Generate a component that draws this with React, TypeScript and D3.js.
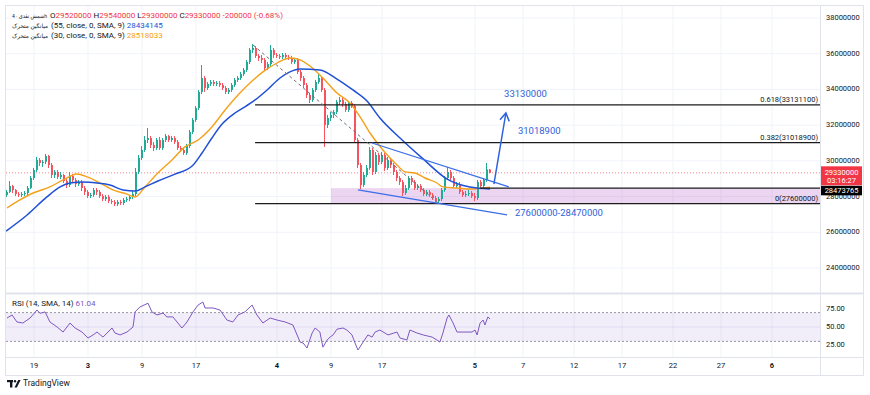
import React from 'react';
import * as d3 from 'd3';

// 4h bars, prices in units of 10,000
const firstOpen = 2809;
const closes = [
  2826, 2859, 2837, 2814, 2809, 2814, 2820, 2848, 2904, 2949,
  3005, 2988, 2994, 3027, 2977, 2921, 2938, 2910, 2921, 2887,
  2865, 2915, 2893, 2870, 2882, 2848, 2826, 2803, 2809, 2837,
  2826, 2803, 2786, 2798, 2775, 2770, 2758, 2770, 2764, 2781,
  2786, 2798, 2814, 2938, 3016, 3061, 3117, 3128, 3089, 3072,
  3117, 3072, 3117, 3139, 3117, 3128, 3106, 3072, 3061, 3044,
  3083, 3162, 3229, 3296, 3386, 3464, 3408, 3431, 3442, 3431,
  3436, 3425, 3408, 3386, 3397, 3425, 3453, 3464, 3486, 3509,
  3554, 3621, 3632, 3587, 3576, 3565, 3520, 3542, 3621, 3593,
  3587, 3582, 3593, 3582, 3576, 3554, 3565, 3498, 3464, 3425,
  3369, 3341, 3397, 3442, 3464, 3397, 3201, 3240, 3257, 3274,
  3330, 3341, 3318, 3285, 3324, 3307, 3117, 2977, 2865, 2921,
  2960, 3061, 2938, 3033, 2994, 3033, 2960, 3005, 2977, 2938,
  2904, 2882, 2820, 2848, 2904, 2882, 2848, 2859, 2837, 2814,
  2826, 2809, 2792, 2775, 2786, 2837, 2904, 2938, 2904, 2859,
  2870, 2826, 2809, 2814, 2820, 2803, 2792, 2882, 2859, 2893,
  2952, 2933,
];
const highs = [
  2837, 2887, 2865, 2842, 2826, 2826, 2831, 2859, 2915, 2960,
  3022, 3016, 3005, 3038, 3033, 2988, 2949, 2949, 2938, 2926,
  2898, 2938, 2926, 2904, 2893, 2893, 2859, 2837, 2820, 2848,
  2848, 2837, 2814, 2809, 2809, 2786, 2781, 2781, 2781, 2792,
  2798, 2809, 2831, 2960, 3033, 3083, 3139, 3184, 3139, 3106,
  3128, 3134, 3128, 3150, 3145, 3139, 3139, 3117, 3083, 3072,
  3095, 3173, 3240, 3307, 3397, 3537, 3475, 3442, 3453, 3453,
  3447, 3447, 3436, 3419, 3408, 3436, 3464, 3475, 3498, 3520,
  3565, 3632, 3654, 3643, 3598, 3593, 3576, 3554, 3649, 3632,
  3604, 3598, 3604, 3604, 3593, 3587, 3576, 3576, 3509, 3475,
  3436, 3380, 3408, 3453, 3492, 3475, 3408, 3257, 3274, 3285,
  3341, 3358, 3352, 3330, 3335, 3335, 3318, 3128, 2988, 2938,
  2977, 3078, 3072, 3050, 3044, 3050, 3044, 3022, 3016, 2988,
  2949, 2915, 2893, 2865, 2915, 2915, 2893, 2870, 2870, 2848,
  2837, 2837, 2820, 2803, 2798, 2848, 2915, 2966, 2949, 2915,
  2882, 2882, 2837, 2831, 2837, 2831, 2820, 2893, 2893, 2904,
  2988, 2954,
];
const lows = [
  2798, 2820, 2820, 2803, 2798, 2798, 2803, 2809, 2842, 2893,
  2938, 2971, 2966, 2982, 2960, 2904, 2904, 2898, 2898, 2876,
  2848, 2854, 2882, 2854, 2859, 2831, 2809, 2792, 2792, 2798,
  2809, 2792, 2775, 2775, 2764, 2758, 2747, 2747, 2753, 2753,
  2770, 2775, 2786, 2803, 2926, 3005, 3050, 3100, 3072, 3055,
  3061, 3061, 3061, 3106, 3106, 3106, 3095, 3061, 3050, 3033,
  3033, 3072, 3150, 3218, 3285, 3374, 3386, 3397, 3419, 3419,
  3419, 3414, 3397, 3374, 3374, 3386, 3414, 3442, 3453, 3475,
  3498, 3542, 3604, 3576, 3559, 3548, 3503, 3509, 3531, 3576,
  3576, 3570, 3570, 3570, 3565, 3542, 3542, 3486, 3447, 3408,
  3352, 3324, 3330, 3386, 3431, 3386, 3078, 3184, 3223, 3240,
  3262, 3313, 3302, 3274, 3274, 3296, 3100, 2960, 2842, 2854,
  2910, 2949, 2921, 2926, 2977, 2982, 2943, 2949, 2960, 2921,
  2887, 2865, 2803, 2809, 2837, 2865, 2837, 2837, 2826, 2803,
  2803, 2798, 2781, 2758, 2764, 2775, 2826, 2893, 2893, 2848,
  2848, 2814, 2798, 2798, 2803, 2792, 2775, 2781, 2848, 2848,
  2882, 2930,
];

// moving averages as [bar, price]
const sma55 = [
  [-0.3, 2607], [6.7, 2697], [13.3, 2798], [17.7, 2854], [21, 2876], [25.3, 2882],
  [30, 2876], [34.3, 2865], [38.7, 2837], [42.7, 2831], [46, 2854], [50.3, 2887],
  [56, 2926], [61.7, 2971], [65, 3044], [68.3, 3128], [71.7, 3206], [76, 3268],
  [79.3, 3302], [82.7, 3341], [86.7, 3397], [91, 3464], [94.3, 3498], [97.7, 3514],
  [104.3, 3509], [110, 3458], [115.3, 3397], [120, 3335], [124.3, 3240], [131, 3128],
  [138.7, 3011], [146.7, 2898], [154.3, 2854], [161, 2843],
];
const sma30 = [
  [0, 2736], [4.3, 2781], [8.7, 2820], [14.3, 2854], [18.7, 2893], [23.3, 2926],
  [26.7, 2910], [31, 2876], [35.3, 2837], [40, 2814], [42.7, 2798], [46, 2854],
  [50.3, 2932], [55, 3005], [59.3, 3078], [63.7, 3117], [68.3, 3190], [72.7, 3285],
  [77, 3369], [81.7, 3447], [85.3, 3498], [90, 3548], [94.3, 3576], [97, 3570],
  [101, 3531], [105.3, 3464], [110, 3380], [114.3, 3324], [117.7, 3246], [121, 3156],
  [125.3, 3061], [130, 2977], [132.7, 2938], [136, 2932], [139.3, 2904], [143.3, 2876],
  [145.3, 2854], [150, 2848], [154.3, 2842], [161, 2852],
];
const rsi = [
  [0, 62.5], [1.7, 66.7], [3.3, 57], [5.3, 55.5], [7.7, 62.5], [10, 73.6], [11, 69],
  [12.7, 71], [14.3, 57], [16.7, 50], [18.7, 43], [21, 55.5], [22.7, 48.6], [25, 43],
  [27, 34.7], [28.7, 39], [30, 43], [32, 36], [35, 48.6], [36, 41.6], [37.7, 39],
  [40, 43], [42, 50], [42.7, 71], [44.3, 77.8], [47, 83], [48.3, 71], [50, 66.7],
  [52, 69.4], [53.3, 64], [55.3, 64], [58.3, 48.6], [60, 57], [62, 71], [63.7, 80.5],
  [65.3, 84.7], [66, 76.4], [68.7, 76.4], [71, 73.6], [73.3, 59.7], [75.3, 57],
  [77, 66.7], [79.3, 71], [81.7, 80.5], [83.3, 66.7], [85.3, 55.5], [87.7, 62.5],
  [90, 59.7], [92.7, 57], [95.3, 52.8], [97.7, 29], [98.7, 27.8], [100, 20.8],
  [101.7, 41.6], [102.7, 48.6], [104.3, 43], [105.3, 22], [106.7, 32], [107.7, 36],
  [108.7, 39], [110, 47], [112, 48.6], [113.3, 45.8], [115, 39], [116, 27.8], [117, 18],
  [118.7, 29], [120.3, 39], [121.7, 36], [122.7, 43], [124.3, 45.8], [127, 39],
  [130, 43], [131, 34.7], [133.3, 32], [134.3, 45.8], [136.7, 41.6], [138.7, 39],
  [141.7, 36], [143.3, 32], [144.3, 29], [145.3, 41.6], [146.7, 62.5], [147.3, 66.7],
  [148.7, 55.5], [150, 43], [152, 43], [155, 43], [156, 45.8], [156.7, 39],
  [157.7, 55.5], [158.7, 59.7], [159.3, 52.8], [160.3, 64], [161, 61.04],
];

const priceTicks = [3800, 3600, 3400, 3200, 3000, 2800, 2600, 2400];
const rsiTicks = [75, 50, 25];
const timeTickBars = [9, 27, 45, 63, 90, 108, 125, 156, 172, 189, 205, 222, 238, 255];
const timeTickLabels = ['19', '3', '9', '17', '4', '9', '17', '5', '7', '12', '17', '22', '27', '6'];
const monthStarts = ['3', '4', '5', '6'];

// drawings
const fibStart = 82.7;
const fibLevels = [
  { ratio: '0.618', price: 3313.11 },
  { ratio: '0.382', price: 3101.89 },
  { ratio: '0', price: 2760 },
];
const zone = { from: 108, low: 2760, high: 2847 };
const zoneTopStart = 157.7;
const channelUpper = [[121.7, 3100], [167.3, 2854]];
const channelLower = [[117, 2837], [166.7, 2697]];
const dashedTrend = [[82, 3649], [143.7, 2764]];
const arrow = [[162.3, 2870], [166.3, 3268]];
const notes = [
  { bar: 165.7, price: 3374, text: '33130000' },
  { bar: 170.3, price: 3162, text: '31018900' },
  { bar: 169.3, price: 2703, text: '27600000-28470000' },
];
const lastClose = 2933;
const countdown = '03:16:27';
const extraLabel = '28473765';

const UP = '#22ab94';
const DOWN = '#f7525f';
const FONT = "Roboto, 'DejaVu Sans', sans-serif";

const fmt = (v: number) => String(Math.round(v * 10000));

export default function App() {
  const left = 6, right = 820, top = 6, mainBottom = 293, rsiBottom = 357, axisBottom = 375;
  const x = d3.scaleLinear().domain([0, 271]).range([7, 820]);
  const y = d3.scaleLinear().domain([2400, 3800]).range([268, 18]);
  const yr = d3.scaleLinear().domain([25, 75]).range([345, 309]);

  const maLine = d3.line<number[]>().x(d => x(d[0])).y(d => y(d[1])).curve(d3.curveMonotoneX);
  const rsiLine = d3.line<number[]>().x(d => x(d[0])).y(d => yr(d[1]));

  const candles = closes.map((c, i) => {
    const o = i === 0 ? firstOpen : closes[i - 1];
    const col = c >= o ? UP : DOWN;
    const cx = Math.round(x(i));
    const yTop = y(Math.max(o, c));
    const yBot = y(Math.min(o, c));
    return (
      <g key={i}>
        <rect x={cx - 1} y={y(highs[i])} width={1} height={y(lows[i]) - y(highs[i])} fill={col} />
        <rect x={cx - 1} y={yTop} width={2} height={Math.max(1, yBot - yTop)} fill={col} />
      </g>
    );
  });

  const ly = y(lastClose);
  const arrowTip = [x(arrow[1][0]), y(arrow[1][1])];
  const arrowBase = [x(arrow[0][0]), y(arrow[0][1])];
  const ang = Math.atan2(arrowTip[1] - arrowBase[1], arrowTip[0] - arrowBase[0]);
  const headLen = 9;
  const head = [ang + Math.PI - 0.55, ang + Math.PI + 0.55].map(a => [
    arrowTip[0] + headLen * Math.cos(a),
    arrowTip[1] + headLen * Math.sin(a),
  ]);

  return (
    <svg width={870} height={395} style={{ position: 'absolute', left: 0, top: 0, background: '#fff' }}
      fontFamily={FONT}>
      <defs>
        <clipPath id="mainClip"><rect x={left} y={top} width={right - left} height={mainBottom - top} /></clipPath>
        <clipPath id="rsiClip"><rect x={left} y={mainBottom} width={right - left} height={rsiBottom - mainBottom} /></clipPath>
      </defs>
      <rect width={870} height={395} fill="#fff" />

      {/* grid */}
      {timeTickBars.map((b, i) => (
        <line key={'vg' + i} x1={x(b)} x2={x(b)} y1={top} y2={rsiBottom} stroke="#f0f3fa" />
      ))}
      {priceTicks.map(p => (
        <line key={'hg' + p} x1={left} x2={right} y1={y(p)} y2={y(p)} stroke="#f0f3fa" />
      ))}

      {/* frame */}
      <rect x={5.5} y={5.5} width={858} height={370} fill="none" stroke="#e0e3eb" />
      <line x1={5.5} x2={863.5} y1={mainBottom + 0.5} y2={mainBottom + 0.5} stroke="#e0e3eb" strokeWidth={2} />
      <line x1={5.5} x2={863.5} y1={rsiBottom + 0.5} y2={rsiBottom + 0.5} stroke="#e0e3eb" />
      <line x1={right + 0.5} x2={right + 0.5} y1={5.5} y2={axisBottom} stroke="#e0e3eb" />

      <g clipPath="url(#mainClip)">
        {/* zone */}
        <rect x={x(zone.from)} y={y(zone.high)} width={right - x(zone.from)} height={y(zone.low) - y(zone.high)}
          fill="rgba(186,104,200,0.28)" />
        {/* last price line */}
        <line x1={left} x2={right} y1={ly} y2={ly} stroke="#f23645" strokeOpacity={0.6} strokeDasharray="1 2" />

        {candles}

        <path d={maLine(sma30) || ''} fill="none" stroke="#f5a01a" strokeWidth={1.4} />
        <path d={maLine(sma55) || ''} fill="none" stroke="#1f4fd6" strokeWidth={1.5} />

        {/* fib levels */}
        {fibLevels.map(f => (
          <g key={f.ratio}>
            <line x1={x(fibStart)} x2={right} y1={y(f.price)} y2={y(f.price)} stroke="#1c1c1c" strokeWidth={1.3} />
            <text x={right - 2} y={y(f.price) - 3} textAnchor="end" fontSize={7.5} fill="#131722">
              {`${f.ratio}(${fmt(f.price)})`}
            </text>
          </g>
        ))}
        <line x1={x(zoneTopStart)} x2={right} y1={y(zone.high)} y2={y(zone.high)} stroke="#1c1c1c" strokeWidth={1.3} />

        {/* trend drawings */}
        <line x1={x(dashedTrend[0][0])} y1={y(dashedTrend[0][1])} x2={x(dashedTrend[1][0])} y2={y(dashedTrend[1][1])}
          stroke="#6a6d78" strokeDasharray="3 3" />
        {[channelUpper, channelLower].map((c, i) => (
          <line key={'ch' + i} x1={x(c[0][0])} y1={y(c[0][1])} x2={x(c[1][0])} y2={y(c[1][1])}
            stroke="#3b6ee8" strokeWidth={1.3} />
        ))}
        <line x1={arrowBase[0]} y1={arrowBase[1]} x2={arrowTip[0]} y2={arrowTip[1]} stroke="#2e62e0" strokeWidth={1.5} />
        <polyline points={`${head[0][0]},${head[0][1]} ${arrowTip[0]},${arrowTip[1]} ${head[1][0]},${head[1][1]}`}
          fill="none" stroke="#2e62e0" strokeWidth={1.5} />
        {notes.map(n => (
          <text key={n.text} x={x(n.bar)} y={y(n.price)} dominantBaseline="middle" fontSize={9.5} fill="#2e62d9">
            {n.text}
          </text>
        ))}
      </g>

      {/* RSI pane */}
      <g clipPath="url(#rsiClip)">
        <rect x={left} y={yr(70)} width={right - left} height={yr(30) - yr(70)} fill="rgba(126,87,194,0.1)" />
        <line x1={left} x2={right} y1={yr(70)} y2={yr(70)} stroke="#9598a1" strokeDasharray="2 2" />
        <line x1={left} x2={right} y1={yr(30)} y2={yr(30)} stroke="#9598a1" strokeDasharray="2 2" />
        <line x1={left} x2={right} y1={yr(50)} y2={yr(50)} stroke="rgba(126,87,194,0.12)" />
        <path d={rsiLine(rsi) || ''} fill="none" stroke="#7e57c2" strokeWidth={1} />
      </g>

      {/* price axis */}
      {priceTicks.map(p => (
        <text key={'pt' + p} x={826} y={y(p)} dominantBaseline="middle" fontSize={7.5} fill="#131722">{fmt(p)}</text>
      ))}
      {rsiTicks.map(v => (
        <text key={'rt' + v} x={826} y={yr(v)} dominantBaseline="middle" fontSize={7.5} fill="#131722">{v.toFixed(2)}</text>
      ))}
      <rect x={821} y={ly - 6.5} width={41} height={19} fill="#f23645" />
      <text x={841.5} y={ly} textAnchor="middle" dominantBaseline="middle" fontSize={7.5} fill="#fff">{fmt(lastClose)}</text>
      <text x={841.5} y={ly + 8} textAnchor="middle" dominantBaseline="middle" fontSize={7.5} fill="#fff">{countdown}</text>
      <rect x={821} y={ly + 13} width={41} height={9.5} fill="#000" />
      <text x={841.5} y={ly + 17.8} textAnchor="middle" dominantBaseline="middle" fontSize={7.5} fill="#fff">{extraLabel}</text>

      {/* time axis */}
      {timeTickBars.map((b, i) => (
        <text key={'tt' + i} x={x(b)} y={366} textAnchor="middle" dominantBaseline="middle" fontSize={7.5}
          fill="#131722" fontWeight={monthStarts.includes(timeTickLabels[i]) && i !== 0 ? 700 : 400}>
          {timeTickLabels[i]}
        </text>
      ))}

      {/* legends */}
      <text x={12} y={16} dominantBaseline="middle" fontSize={6.2} fill="#131722"
        textLength={35} lengthAdjust="spacingAndGlyphs">شمش نقدی · 4h</text>
      <text x={50} y={16} dominantBaseline="middle" fontSize={8} fill="#131722">
        <tspan>O</tspan><tspan fill="#f23645">29520000</tspan>
        <tspan> H</tspan><tspan fill="#f23645">29540000</tspan>
        <tspan> L</tspan><tspan fill="#f23645">29300000</tspan>
        <tspan> C</tspan><tspan fill="#f23645">29330000 -200000 (-0.68%)</tspan>
      </text>
      <text x={12} y={26} dominantBaseline="middle" fontSize={6} fill="#131722"
        textLength={36} lengthAdjust="spacingAndGlyphs">میانگین متحرک</text>
      <text x={51} y={26} dominantBaseline="middle" fontSize={8} fill="#131722">
        (55, close, 0, SMA, 9) <tspan fill="#2156d8">28434145</tspan>
      </text>
      <text x={12} y={36} dominantBaseline="middle" fontSize={6} fill="#131722"
        textLength={36} lengthAdjust="spacingAndGlyphs">میانگین متحرک</text>
      <text x={51} y={36} dominantBaseline="middle" fontSize={8} fill="#131722">
        (30, close, 0, SMA, 9) <tspan fill="#f59d0e">28518033</tspan>
      </text>
      <text x={12} y={304} dominantBaseline="middle" fontSize={8} fill="#131722">
        RSI (14, SMA, 14) <tspan fill="#7e57c2">61.04</tspan>
      </text>

      {/* TradingView mark */}
      <g fill="#131722">
        <rect x={7} y={380} width={6} height={2.2} />
        <rect x={10} y={380} width={2.4} height={7.5} />
        <circle cx={15} cy={381.2} r={1.2} />
        <polygon points="14.5,387.5 18.2,380 20.6,380 16.9,387.5" />
      </g>
      <text x={23} y={384} dominantBaseline="middle" fontSize={8.5} fill="#131722">TradingView</text>
    </svg>
  );
}
